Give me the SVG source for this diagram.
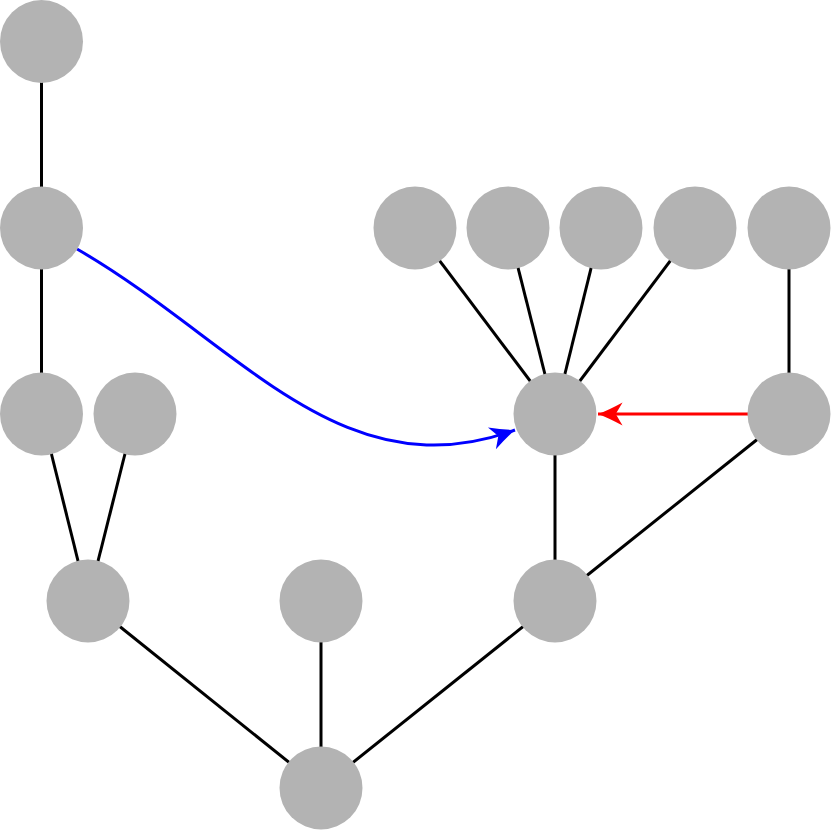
<svg xmlns="http://www.w3.org/2000/svg" width="831" height="831" viewBox="0 0 831 831">
<style>
.n{fill:#b3b3b3}
.e{stroke:#000;stroke-width:3;fill:none}
</style>
<defs>
<marker id="ar" markerWidth="30" markerHeight="30" refX="0" refY="0" viewBox="-20 -10 22 20" markerUnits="userSpaceOnUse" orient="auto" overflow="visible">
<path d="M0,0 Q-8,-3 -18,-8.5 L-13,0 L-18,8.5 Q-8,3 0,0 Z" fill="red"/>
</marker>
<marker id="ab" markerWidth="30" markerHeight="30" refX="0" refY="0" viewBox="-20 -10 22 20" markerUnits="userSpaceOnUse" orient="auto" overflow="visible">
<path d="M0,0 Q-8,-3 -18,-8.5 L-13,0 L-18,8.5 Q-8,3 0,0 Z" fill="blue"/>
</marker>
</defs>
<rect width="831" height="831" fill="#fff"/>
<g id="edges">
<line class="e" x1="41.5" y1="41.5" x2="41.5" y2="228"/>
<line class="e" x1="41.5" y1="228" x2="41.5" y2="414"/>
<line class="e" x1="41.5" y1="414" x2="88" y2="601"/>
<line class="e" x1="135" y1="414" x2="88" y2="601"/>
<line class="e" x1="88" y1="601" x2="321" y2="788"/>
<line class="e" x1="321" y1="601" x2="321" y2="788"/>
<line class="e" x1="555" y1="601" x2="321" y2="788"/>
<line class="e" x1="555" y1="601" x2="555" y2="414"/>
<line class="e" x1="555" y1="601" x2="789" y2="414"/>
<line class="e" x1="555" y1="414" x2="415" y2="228"/>
<line class="e" x1="555" y1="414" x2="508" y2="228"/>
<line class="e" x1="555" y1="414" x2="601" y2="228"/>
<line class="e" x1="555" y1="414" x2="695" y2="228"/>
<line class="e" x1="789" y1="228" x2="789" y2="414"/>
<line x1="748" y1="414" x2="598" y2="414" stroke="red" stroke-width="3" marker-end="url(#ar)"/>
<path d="M77,249 C237.7,341.8 340.6,493.5 515,430" stroke="blue" stroke-width="3" fill="none" marker-end="url(#ab)"/>
</g>
<g id="nA"><circle class="n" cx="41.5" cy="41.5" r="41.5"/></g>
<g id="nB"><circle class="n" cx="41.5" cy="228" r="41.5"/></g>
<g id="nC"><circle class="n" cx="41.5" cy="414" r="41.5"/></g>
<g id="nD"><circle class="n" cx="135" cy="414" r="41.5"/></g>
<g id="nE"><circle class="n" cx="88" cy="601" r="41.5"/></g>
<g id="nF"><circle class="n" cx="321" cy="601" r="41.5"/></g>
<g id="nG"><circle class="n" cx="321" cy="788" r="41.5"/></g>
<g id="nH"><circle class="n" cx="555" cy="601" r="41.5"/></g>
<g id="nI"><circle class="n" cx="555" cy="414" r="41.5"/></g>
<g id="nJ"><circle class="n" cx="415" cy="228" r="41.5"/></g>
<g id="nK"><circle class="n" cx="508" cy="228" r="41.5"/></g>
<g id="nL"><circle class="n" cx="601" cy="228" r="41.5"/></g>
<g id="nM"><circle class="n" cx="695" cy="228" r="41.5"/></g>
<g id="nN"><circle class="n" cx="789" cy="228" r="41.5"/></g>
<g id="nO"><circle class="n" cx="789" cy="414" r="41.5"/></g>
</svg>
